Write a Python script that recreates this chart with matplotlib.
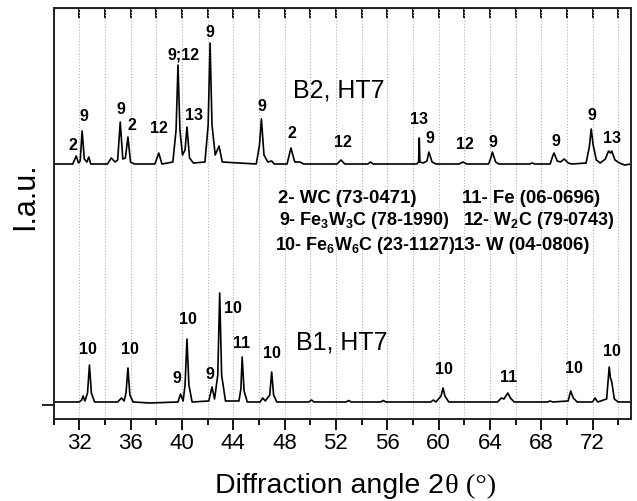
import matplotlib
matplotlib.use('Agg')
import matplotlib.pyplot as plt
from matplotlib.ticker import MultipleLocator

plt.rcParams['font.family'] = ['Liberation Sans', 'DejaVu Sans']
plt.rcParams['mathtext.fontset'] = 'custom'
plt.rcParams['mathtext.rm'] = 'Liberation Sans'
plt.rcParams['mathtext.bf'] = 'Liberation Sans:bold'

# B2, HT7 trace (2theta, intensity)
b2 = [(30.0, 241), (31.5, 241), (31.77, 249), (31.95, 242), (32.08, 244), (32.23, 274), (32.4, 246),
      (32.6, 243), (32.75, 248), (32.9, 241), (34.2, 241), (34.5, 247), (34.8, 243), (35.0, 245),
      (35.2, 283), (35.4, 246), (35.6, 247), (35.8, 268), (36.0, 243), (36.3, 241), (37.9, 241),
      (38.2, 252), (38.45, 241), (39.3, 243), (39.55, 275), (39.7, 340), (39.85, 275), (40.05, 250),
      (40.25, 255), (40.4, 278), (40.6, 247), (40.9, 242), (41.8, 243), (42.05, 280), (42.2, 362),
      (42.35, 280), (42.6, 250), (42.9, 259), (43.15, 243), (45.8, 241), (46.05, 260), (46.2, 286),
      (46.4, 250), (46.7, 243), (47.0, 244), (47.2, 241), (48.2, 241), (48.5, 257), (48.8, 243),
      (49.2, 243), (49.5, 241), (52.1, 241), (52.4, 245), (52.7, 241), (54.5, 241), (54.7, 243),
      (54.9, 241), (58.3, 241), (58.45, 243), (58.5, 267), (58.55, 243), (58.8, 242), (59.1, 244),
      (59.25, 253), (59.5, 243), (59.8, 241), (61.6, 241), (61.9, 243), (62.2, 241), (63.9, 241),
      (64.1, 248), (64.2, 253), (64.45, 243), (64.7, 241), (67.1, 241), (67.3, 242), (67.5, 241),
      (68.7, 241), (68.9, 249), (69.0, 252), (69.25, 244), (69.5, 243), (69.8, 246), (70.1, 242),
      (70.4, 241), (71.5, 242), (71.75, 258), (71.9, 276), (72.05, 260), (72.3, 245), (72.6, 242),
      (73.0, 246), (73.25, 254), (73.4, 252), (73.5, 254), (73.75, 245), (74.1, 242), (74.5, 240),
      (75.0, 241)]

# B1, HT7 trace
b1 = [(30.0, 3), (32.0, 3), (32.2, 5), (32.3, 9), (32.45, 4), (32.65, 12), (32.8, 40), (32.95, 12),
      (33.2, 3), (35.0, 3), (35.3, 7), (35.5, 4), (35.65, 12), (35.8, 37), (35.95, 10), (36.2, 3),
      (37.5, 2), (39.7, 3), (39.9, 11), (40.1, 4), (40.25, 20), (40.4, 66), (40.55, 20), (40.8, 3),
      (42.1, 4), (42.35, 18), (42.55, 6), (42.8, 30), (42.95, 112), (43.1, 30), (43.4, 4),
      (44.45, 4), (44.6, 16), (44.7, 48), (44.85, 14), (45.1, 3), (46.1, 3), (46.3, 7), (46.5, 4),
      (46.85, 10), (47.0, 33), (47.15, 10), (47.4, 3), (49.9, 3), (50.1, 5), (50.3, 3), (52.8, 3),
      (53.0, 4.5), (53.2, 3), (55.5, 3), (55.7, 4.5), (55.9, 3), (59.4, 3), (59.6, 5), (59.8, 3),
      (60.2, 9), (60.35, 17), (60.5, 9), (60.8, 3), (64.6, 3), (64.9, 7), (65.1, 6), (65.4, 12),
      (65.6, 7), (65.9, 3), (68.5, 3), (68.7, 4), (68.9, 3), (70.1, 4), (70.3, 14), (70.5, 7),
      (70.8, 3), (72.0, 3), (72.2, 7), (72.4, 3), (73.1, 6), (73.3, 38), (73.4, 27), (73.5, 23),
      (73.7, 6), (74.0, 3), (75.0, 3)]

# phase labels over peaks
b2_labels = [(31.53, 260, '2'), (32.39, 289, '9'), (35.26, 296, '9'), (36.12, 280, '2'),
             (38.2, 277, '12'), (40.16, 350, '9;12'), (40.94, 290, '13'), (42.18, 373, '9'),
             (46.22, 299, '9'), (48.55, 272, '2'), (52.59, 263, '12'), (58.5, 286, '13'),
             (59.35, 267, '9'), (62.07, 261, '12'), (64.25, 263, '9'), (69.14, 264, '9'),
             (71.94, 290, '9'), (73.49, 267, '13')]
b1_labels = [(32.7, 55, '10'), (35.96, 55, '10'), (39.61, 26, '9'), (40.47, 85, '10'),
             (42.18, 30, '9'), (43.97, 96, '10'), (44.67, 61, '11'), (47.0, 51, '10'),
             (60.44, 35, '10'), (65.49, 27, '11'), (70.54, 36, '10'), (73.49, 53, '10')]

phases = [(47.46, 207, r'2- WC (73-0471)'),
          (61.84, 207, r'11- Fe (06-0696)'),
          (47.6, 185, r'9- Fe$_\mathbf{3}$W$_\mathbf{3}$C (78-1990)'),
          (61.9, 185, r'12- W$_\mathbf{2}$C (79-0743)'),
          (47.23, 159, r'10- Fe$_\mathbf{6}$W$_\mathbf{6}$C (23-1127)'),
          (61.2, 159, r'13- W (04-0806)')]

fig = plt.figure(figsize=(6.37, 5.01), dpi=100)
ax = fig.add_axes([0.084, 0.1637, 0.9066, 0.8203])

ax.plot([p[0] for p in b2], [p[1] for p in b2], color='black', lw=1.2)
ax.plot([p[0] for p in b1], [p[1] for p in b1], color='black', lw=1.2)

for x, y, t in b2_labels + b1_labels:
    ax.text(x, y, t, ha='center', va='center', fontsize=11.5, fontweight='bold')
for x, y, t in phases:
    size = 12.9 if '$' in t else 13.4
    ax.text(x, y, t, ha='left', va='center', fontsize=size, fontweight='bold')

ax.text(48.63, 315, 'B2, HT7', ha='left', va='center', fontsize=18)
ax.text(48.86, 62, 'B1, HT7', ha='left', va='center', fontsize=18)

ax.set_xlim(30, 75)
ax.set_ylim(-14, 397)
ax.xaxis.set_minor_locator(MultipleLocator(2))
ax.set_xticks([32, 36, 40, 44, 48, 52, 56, 60, 64, 68, 72])
ax.tick_params(axis='x', which='major', direction='out', length=8, width=1.3, labelsize=16, pad=2)
ax.tick_params(axis='x', which='minor', direction='out', length=4, width=1.3)
ax.set_yticks([0])
ax.set_yticklabels([])
ax.tick_params(axis='y', direction='out', length=9, width=1.2)
ax.xaxis.grid(True, which='both', linestyle=':', color='#b0b0b0', lw=0.8)
for s in ax.spines.values():
    s.set_linewidth(1.4)
    s.set_color('#222222')

top = ax.secondary_xaxis('top')
top.set_xticks([32, 36, 40, 44, 48, 52, 56, 60, 64, 68, 72])
top.xaxis.set_minor_locator(MultipleLocator(2))
top.tick_params(which='both', direction='in', length=7, width=1.3, labeltop=False)

fig.text(25 / 637, 1 - 196 / 501, 'I.a.u.', rotation=90, ha='center', va='center', fontsize=22)

t1 = fig.text(215 / 637, 8 / 501, 'Diffraction angle 2', ha='left', va='baseline', fontsize=20.5)
fig.canvas.draw()
bb = t1.get_window_extent()
fig.text(bb.x1 / 637 + 0.002, 8 / 501, 'θ (°)', ha='left', va='baseline', fontsize=20.5,
         family=['Liberation Serif', 'DejaVu Serif'])

fig.savefig('out.png', dpi=100)
